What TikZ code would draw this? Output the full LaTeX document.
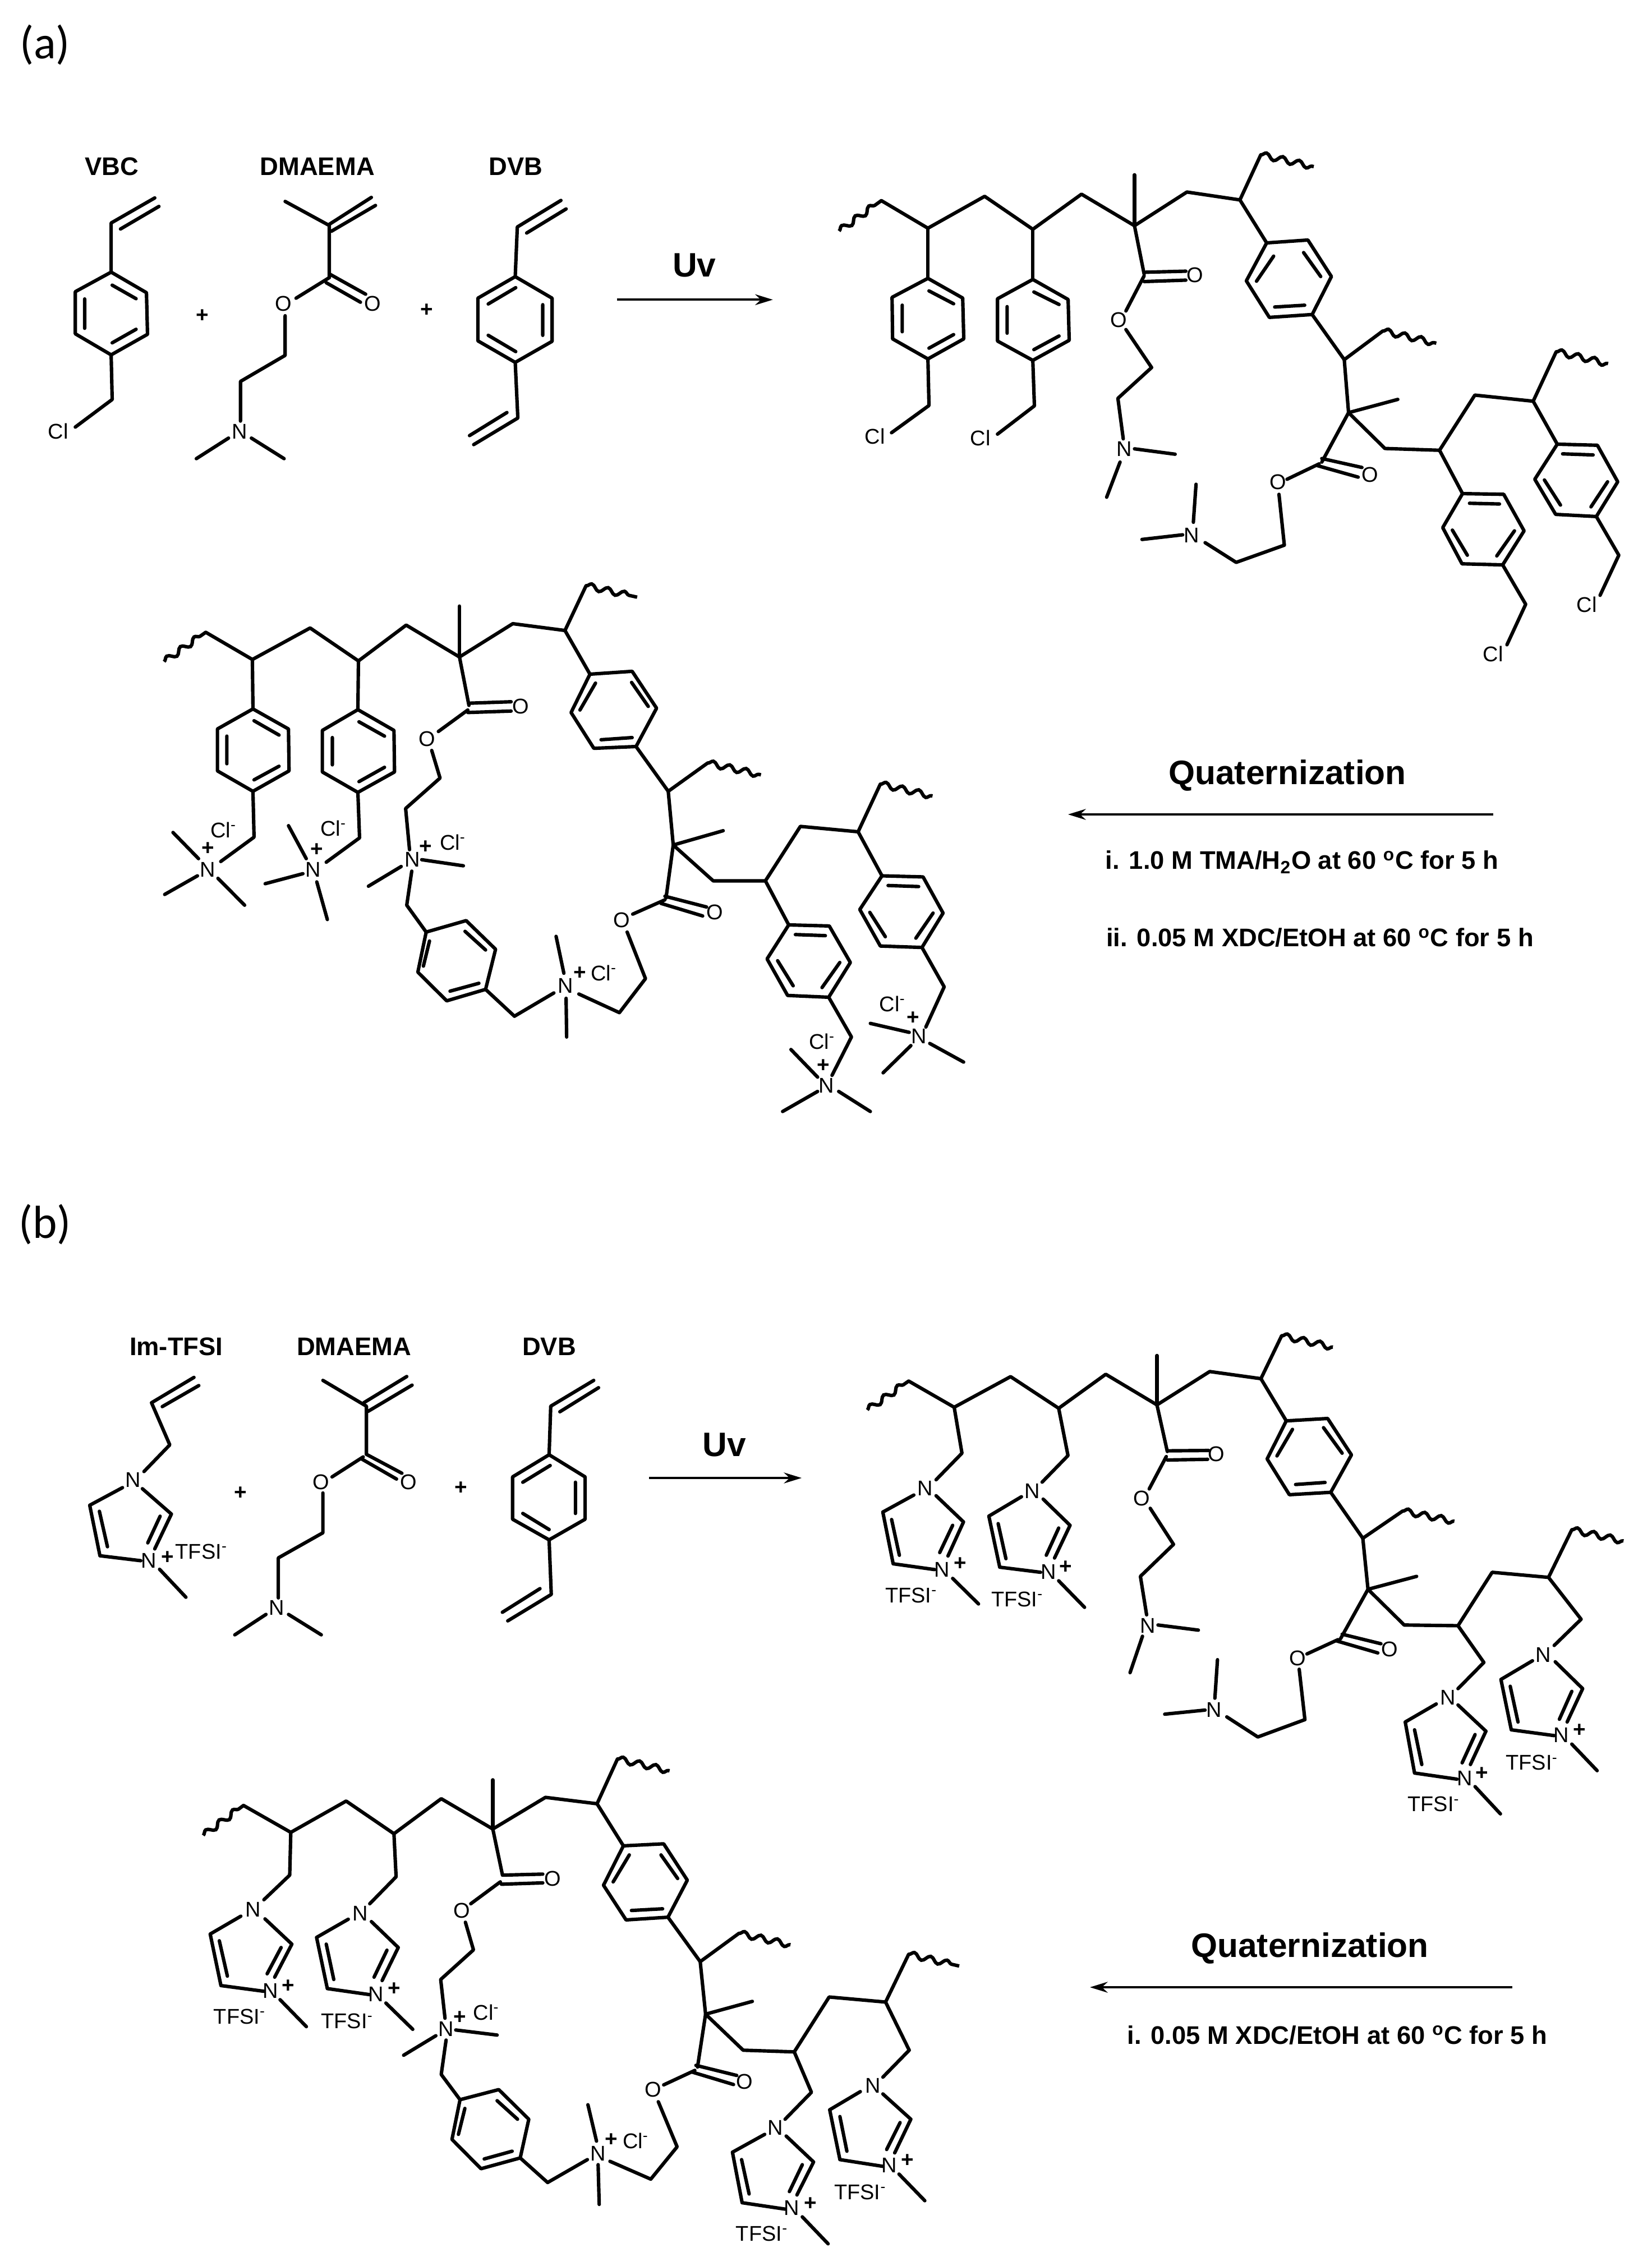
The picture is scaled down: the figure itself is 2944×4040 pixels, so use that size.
\documentclass[tikz,border=0pt]{standalone}
\usepackage{fontspec}
\setmainfont{Liberation Sans}
\newfontfamily\calib{Carlito}
\usetikzlibrary{arrows.meta,decorations.pathmorphing}
\newcount\nodectr
\newcommand\atm[2]{\global\advance\nodectr by 1 \node[atom] (a\the\nodectr) at (#1) {#2};}
\newcommand\pls[1]{\global\advance\nodectr by 1 \node[plussign] (a\the\nodectr) at (#1) {+};}
\newcommand\ttl[3]{\global\advance\nodectr by 1 \node[#1] (a\the\nodectr) at (#2) {#3};}
\newcommand\clm{Cl\textsuperscript{-}}
\newcommand\tfs{TFSI\textsuperscript{-}}
\newcommand\dgC{\textsuperscript{o}C}
\tikzset{
  bond/.style={line width=1.75pt,line join=round,line cap=round,black},
  wavy/.style={line width=1.75pt,decorate,decoration={snake,amplitude=1.5pt,segment length=8.5pt}},
  atom/.style={inner sep=0pt,font=\fontsize{10.8}{12}\selectfont},
  plussign/.style={inner sep=0pt,font=\fontsize{11}{12}\selectfont\bfseries},
  molname/.style={inner sep=0pt,font=\fontsize{12.9}{15}\selectfont\bfseries},
  bigname/.style={inner sep=0pt,font=\fontsize{17.2}{20}\selectfont\bfseries},
  cond/.style={inner sep=0pt,font=\fontsize{12.9}{15}\selectfont\bfseries},
  panel/.style={inner sep=0pt,font=\fontsize{23.5}{26}\selectfont\calib},
  react/.style={line width=1.1pt,-{Stealth[length=9pt,width=5.5pt]}},
  zm/.style n args={4}{shift={(#1,#2)},x={0.01cm*#3/1566},y={-0.01cm*#4/1566}}
}
\begin{document}
\begin{tikzpicture}[x=0.01cm,y=-0.01cm]
\fill[white] (0,0) rectangle (2944,4040);
\useasboundingbox (0,0) rectangle (2944,4040);
\ttl{panel}{80,80}{(a)}
\ttl{panel}{80,2183}{(b)}
\ttl{bigname}{2295,1383}{Quaternization}
\draw[react] (2662,1452) -- (1904,1452);
\ttl{cond}{2321,1537}{i. 1.0 M TMA/H\textsubscript{2}O at 60 \dgC\ for 5 h}
\ttl{cond}{2353,1672}{ii. 0.05 M XDC/EtOH at 60 \dgC\ for 5 h}
\ttl{bigname}{2335,3473}{Quaternization}
\draw[react] (2696,3543) -- (1943,3543);
\ttl{cond}{2384,3628}{i. 0.05 M XDC/EtOH at 60 \dgC\ for 5 h}

% ---------- monomers (a)
\begin{scope}[zm={0}{200}{1450}{700}]
\ttl{molname}{215,217}{VBC}\ttl{molname}{611,217}{DMAEMA}\ttl{molname}{993,217}{DVB}
\draw[bond] (298,342)--(214,442)--(214,638) (306,376)--(232,466);
\draw[bond] (214,638)--(282,720)--(284,886)--(214,968)--(145,884)--(145,716)--cycle;
\draw[bond] (216,690)--(262,744) (262,866)--(216,920) (163,745)--(163,862);
\draw[bond] (214,968)--(216,1146)--(145,1256);
\atm{112,1272}{Cl}
\pls{390,812}
\draw[bond] (549,356)--(634,452)--(634,660) (715,340)--(632,450) (723,372)--(638,475);
\draw[bond] (634,645)--(704,726) (628,680)--(694,758) (634,660)--(570,742);
\atm{717,763}{O}\atm{546,763}{O}
\draw[bond] (549,812)--(549,970)--(463,1074)--(463,1232);
\atm{461,1274}{N}
\draw[bond] (440,1300)--(378,1382) (484,1300)--(547,1382);
\pls{822,790}
\draw[bond] (1080,352)--(996,458)--(992,656) (1090,386)--(1014,482);
\draw[bond] (992,656)--(1063,742)--(1063,914)--(992,998)--(920,912)--(920,742)--cycle;
\draw[bond] (993,700)--(940,765) (1045,768)--(1045,890) (940,890)--(993,955);
\draw[bond] (992,998)--(997,1220)--(912,1326) (976,1198)--(904,1290);
\ttl{bigname}{1337,610}{Uv}
\draw[react] (1188,748)--(1488,748);
\end{scope}

% ---------- polymer (a) top
\begin{scope}[zm={1450}{230}{1494}{1000}]
\draw[wavy] (48,285)--(127,200);
\draw[bond] (127,200)--(214,277)--(320,188)--(410,280)--(501,182)--(600,270)--(698,176)--(797,198)--(836,72);
\draw[wavy] (836,72)--(935,105);
\draw[bond] (600,270)--(600,128);
\draw[bond] (214,277)--(214,417);
\draw[bond] (214,417)--(279,472)--(281,586)--(214,642)--(148,586)--(147,470)--cycle;
\draw[bond] (216,452)--(262,488) (262,574)--(216,612) (166,492)--(166,566);
\draw[bond] (214,642)--(216,772)--(146,848);
\atm{115,858}{Cl}
\draw[bond] (410,280)--(410,420);
\draw[bond] (410,420)--(476,476)--(478,590)--(410,646)--(344,592)--(344,474)--cycle;
\draw[bond] (412,455)--(459,490) (459,578)--(412,616) (362,496)--(362,570);
\draw[bond] (410,646)--(413,773)--(344,852);
\atm{312,862}{Cl}
\draw[bond] (600,270)--(618,405) (618,400)--(696,397) (618,426)--(696,422);
\atm{713,408}{O}
\draw[bond] (618,410)--(584,508);
\atm{570,533}{O}
\draw[bond] (584,560)--(632,666)--(569,752)--(579,865);
\atm{581,893}{N}
\draw[bond] (600,893)--(676,908) (573,930)--(548,1028);
\draw[bond] (797,198)--(847,318);
\draw[bond] (847,318)--(924,310)--(968,412)--(932,518)--(852,526)--(809,424)--cycle;
\draw[bond] (860,355)--(828,425) (916,345)--(948,412) (862,497)--(918,492);
\draw[bond] (932,518)--(992,644)--(1064,564);
\draw[wavy] (1064,564)--(1164,598);
\draw[bond] (992,644)--(1000,792) (1000,792)--(1092,755);
\draw[bond] (1000,792)--(1068,892)--(1170,897)--(1236,743)--(1345,760)--(1388,622);
\draw[wavy] (1388,622)--(1485,655);
\draw[bond] (1000,792)--(950,930) (950,920)--(1025,945) (942,940)--(1018,972);
\atm{1040,965}{O}
\draw[bond] (945,935)--(885,978);
\atm{868,985}{O}
\draw[bond] (870,1020)--(880,1162)--(790,1210)--(732,1155);
\atm{707,1135}{N}
\draw[bond] (710,1098)--(715,992) (690,1133)--(614,1146);
\draw[bond] (1170,897)--(1213,1018);
\draw[bond] (1213,1018)--(1290,1020)--(1328,1122)--(1288,1217)--(1212,1214)--(1176,1113)--cycle;
\draw[bond] (1226,1045)--(1282,1047) (1310,1122)--(1277,1192) (1222,1190)--(1194,1120);
\draw[bond] (1288,1217)--(1331,1327)--(1296,1440);
\atm{1270,1465}{Cl}
\draw[bond] (1345,760)--(1390,880);
\draw[bond] (1390,880)--(1465,883)--(1503,985)--(1463,1082)--(1387,1076)--(1348,978)--cycle;
\draw[bond] (1400,907)--(1457,910) (1484,985)--(1453,1055) (1396,1050)--(1366,980);
\draw[bond] (1463,1082)--(1505,1190)--(1470,1302);
\atm{1445,1328}{Cl}
\end{scope}

% ---------- polymer (a) bottom
\begin{scope}[zm={250}{1020}{1550}{1000}]
\draw[wavy] (43,250)--(118,168);
\draw[bond] (118,168)--(202,244)--(306,156)--(393,248)--(479,148)--(575,237)--(671,144)--(765,163)--(803,38);
\draw[wavy] (803,38)--(895,70);
\draw[bond] (575,237)--(575,95);
\draw[bond] (202,244)--(203,382);
\draw[bond] (203,382)--(267,438)--(268,555)--(203,612)--(139,555)--(139,438)--cycle;
\draw[bond] (205,415)--(250,455) (250,542)--(205,580) (156,458)--(156,535);
\draw[bond] (203,612)--(205,740)--(145,808);
\atm{121,830}{N}\pls{122,772}\atm{150,720}{\clm}
\draw[bond] (105,800)--(59,727) (103,848)--(44,900) (140,855)--(188,930);
\draw[bond] (393,248)--(392,384);
\draw[bond] (392,384)--(457,442)--(458,558)--(392,615)--(328,558)--(328,442)--cycle;
\draw[bond] (394,418)--(440,458) (440,545)--(394,585) (346,462)--(346,538);
\draw[bond] (392,615)--(395,742)--(335,810);
\atm{311,830}{N}\pls{318,775}\atm{348,715}{\clm}
\draw[bond] (299,800)--(267,708) (293,842)--(225,870) (318,865)--(337,970);
\draw[bond] (575,237)--(592,372) (592,366)--(668,362) (590,392)--(668,388);
\atm{685,375}{O}
\draw[bond] (590,385)--(537,445);
\atm{517,465}{O}
\draw[bond] (525,498)--(540,575)--(478,660)--(485,775);
\atm{490,803}{N}\pls{514,768}\atm{563,755}{\clm}
\draw[bond] (507,803)--(582,820) (470,822)--(411,877) (489,835)--(480,930)--(515,1005);
\draw[bond] (515,1005)--(587,973)--(640,1053)--(622,1165)--(552,1197)--(500,1117)--cycle;
\draw[bond] (585,1003)--(622,1055) (521,1030)--(510,1100) (558,1170)--(610,1148);
\draw[bond] (622,1165)--(674,1240)--(745,1175);
\atm{766,1155}{N}\pls{792,1120}\atm{835,1120}{\clm}
\draw[bond] (763,1120)--(749,1017) (767,1190)--(768,1298);
\draw[bond] (790,1178)--(863,1230)--(910,1135)--(877,1005);
\atm{867,972}{O}
\draw[bond] (887,955)--(945,915) (945,905)--(1020,935) (938,925)--(1013,960);
\atm{1035,950}{O}
\draw[bond] (765,163)--(810,285);
\draw[bond] (810,285)--(886,277)--(930,380)--(893,487)--(817,492)--(776,392)--cycle;
\draw[bond] (820,310)--(792,385) (885,308)--(915,375) (830,468)--(886,462);
\draw[bond] (893,487)--(951,612)--(1022,533);
\draw[wavy] (1022,533)--(1118,566);
\draw[bond] (951,612)--(960,762) (960,762)--(1050,722);
\draw[bond] (960,762)--(1032,862)--(1126,862)--(1189,710)--(1293,725)--(1333,592);
\draw[wavy] (1333,592)--(1427,625);
\draw[bond] (960,762)--(947,910);
\draw[bond] (1126,862)--(1168,985);
\draw[bond] (1168,985)--(1241,988)--(1279,1090)--(1240,1187)--(1166,1182)--(1129,1080)--cycle;
\draw[bond] (1180,1012)--(1234,1015) (1260,1090)--(1228,1160) (1176,1155)--(1148,1085);
\draw[bond] (1240,1187)--(1281,1298)--(1246,1405);
\atm{1236,1433}{N}\pls{1230,1378}\atm{1228,1310}{\clm}
\draw[bond] (1220,1410)--(1172,1333) (1220,1450)--(1157,1506) (1258,1450)--(1315,1506);
\draw[bond] (1293,725)--(1336,848);
\draw[bond] (1336,848)--(1410,851)--(1446,952)--(1408,1048)--(1333,1044)--(1296,942)--cycle;
\draw[bond] (1347,875)--(1402,878) (1428,952)--(1397,1022) (1342,1018)--(1314,950);
\draw[bond] (1408,1048)--(1448,1158)--(1415,1270);
\atm{1403,1296}{N}\pls{1392,1245}\atm{1355,1205}{\clm}
\draw[bond] (1385,1285)--(1315,1260) (1388,1322)--(1338,1398) (1422,1316)--(1483,1368);
\end{scope}

% ---------- monomers (b)
\begin{scope}[zm={0}{2340}{1500}{600}]
\ttl{molname}{328,160}{Im-TFSI}\ttl{molname}{659,160}{DMAEMA}\ttl{molname}{1022,160}{DVB}
\draw[bond] (361,302)--(282,420)--(316,616)--(268,740) (370,340)--(302,438);
\atm{248,778}{N}
\draw[bond] (228,815)--(167,897)--(186,1132)--(262,1155) (185,925)--(200,1090);
\atm{277,1155}{N}\pls{312,1140}\atm{375,1112}{\tfs}
\draw[bond] (265,820)--(319,938)--(288,1100) (298,948)--(275,1072);
\draw[bond] (297,1195)--(346,1325);
\pls{448,842}
\draw[bond] (601,316)--(682,436)--(682,660) (757,298)--(677,420) (767,338)--(685,460);
\draw[bond] (682,660)--(748,748) (672,680)--(738,775) (676,672)--(618,765);
\atm{760,790}{O}\atm{597,790}{O}
\draw[bond] (601,840)--(601,1025)--(518,1142)--(518,1328);
\atm{515,1375}{N}
\draw[bond] (495,1405)--(437,1500) (537,1405)--(598,1500);
\pls{858,818}
\draw[bond] (1105,316)--(1025,436)--(1022,662) (1114,350)--(1042,462);
\draw[bond] (1022,662)--(1089,765)--(1089,962)--(1022,1058)--(954,962)--(954,765)--cycle;
\draw[bond] (1024,712)--(973,790) (1071,790)--(1071,935) (973,935)--(1022,1010);
\draw[bond] (1022,1058)--(1026,1312)--(945,1435) (1005,1285)--(935,1395);
\ttl{bigname}{1348,615}{Uv}
\draw[react] (1208,770)--(1492,770);
\end{scope}

% ---------- polymer (b) top
\begin{scope}[zm={1500}{2330}{1444}{950}]
\draw[wavy] (50,303)--(130,218);
\draw[bond] (130,218)--(218,295)--(327,205)--(420,298)--(511,198)--(610,288)--(712,190)--(811,211)--(851,85);
\draw[wavy] (851,85)--(950,118);
\draw[bond] (610,288)--(610,143);
\draw[bond] (218,295)--(233,430)--(183,508);
\atm{162,533}{N}
\draw[bond] (140,553)--(80,603)--(100,755)--(180,772) (97,625)--(112,730);
\atm{194,772}{N}\pls{230,755}\atm{135,848}{\tfs}
\draw[bond] (183,555)--(236,632)--(206,732) (215,642)--(190,722) (215,798)--(265,873);
\draw[bond] (420,298)--(438,437)--(388,515);
\atm{369,541}{N}
\draw[bond] (348,558)--(285,615)--(306,765)--(385,780) (303,637)--(318,740);
\atm{400,778}{N}\pls{434,765}\atm{340,860}{\tfs}
\draw[bond] (390,565)--(442,642)--(412,738) (420,650)--(396,730) (420,805)--(470,883);
\draw[bond] (610,288)--(630,425) (632,423)--(710,422) (630,450)--(708,448);
\atm{725,432}{O}
\draw[bond] (628,440)--(595,535);
\atm{581,562}{O}
\draw[bond] (597,592)--(642,698)--(578,792)--(590,905);
\atm{592,937}{N}
\draw[bond] (612,935)--(690,950) (582,968)--(558,1075);
\draw[bond] (811,211)--(860,335);
\draw[bond] (860,335)--(940,328)--(986,435)--(946,545)--(866,552)--(823,447)--cycle;
\draw[bond] (872,360)--(842,438) (932,355)--(968,430) (878,522)--(935,516);
\draw[bond] (946,545)--(1008,680)--(1085,600);
\draw[wavy] (1085,600)--(1185,630);
\draw[bond] (1008,680)--(1018,830) (1018,830)--(1112,792);
\draw[bond] (1018,830)--(1088,935)--(1192,937)--(1258,780)--(1367,795)--(1412,655);
\draw[wavy] (1412,655)--(1512,688);
\draw[bond] (1018,830)--(965,975) (968,962)--(1043,990) (958,982)--(1037,1017);
\atm{1060,1007}{O}
\draw[bond] (960,978)--(900,1020);
\atm{882,1033}{O}
\draw[bond] (885,1065)--(896,1213)--(805,1264)--(745,1205);
\atm{720,1185}{N}
\draw[bond] (722,1150)--(727,1037) (703,1185)--(625,1197);
\draw[bond] (1192,937)--(1242,1045)--(1192,1122);
\atm{1172,1148}{N}
\draw[bond] (1150,1167)--(1090,1220)--(1108,1370)--(1190,1388) (1108,1243)--(1122,1345);
\atm{1205,1385}{N}\pls{1238,1372}\atm{1145,1462}{\tfs}
\draw[bond] (1192,1170)--(1246,1247)--(1216,1345) (1225,1257)--(1200,1340) (1225,1410)--(1274,1490);
\draw[bond] (1367,795)--(1430,918)--(1378,995);
\atm{1357,1022}{N}
\draw[bond] (1336,1040)--(1275,1095)--(1295,1243)--(1378,1260) (1293,1115)--(1308,1220);
\atm{1392,1258}{N}\pls{1427,1245}\atm{1335,1340}{\tfs}
\draw[bond] (1380,1043)--(1433,1122)--(1403,1220) (1412,1130)--(1388,1212) (1412,1285)--(1461,1363);
\end{scope}

% ---------- polymer (b) bottom
\begin{scope}[zm={300}{3100}{1500}{940}]
\draw[wavy] (65,287)--(140,198);
\draw[bond] (140,198)--(228,278)--(331,185)--(420,282)--(508,178)--(604,268)--(702,174)--(798,193)--(836,60);
\draw[wavy] (836,60)--(933,95);
\draw[bond] (604,268)--(604,122);
\draw[bond] (228,278)--(226,405)--(178,478);
\atm{158,507}{N}
\draw[bond] (135,527)--(78,580)--(98,733)--(178,750) (95,600)--(110,705);
\atm{190,748}{N}\pls{223,735}\atm{133,825}{\tfs}
\draw[bond] (180,535)--(230,610)--(198,708) (210,620)--(184,698) (208,775)--(257,855);
\draw[bond] (420,282)--(424,410)--(375,490);
\atm{357,518}{N}
\draw[bond] (335,536)--(276,590)--(296,742)--(375,760) (294,610)--(308,715);
\atm{387,758}{N}\pls{421,743}\atm{333,838}{\tfs}
\draw[bond] (378,543)--(428,620)--(398,718) (407,628)--(383,708) (405,785)--(455,863);
\draw[bond] (604,268)--(622,405) (622,405)--(697,402) (620,432)--(697,428);
\atm{715,415}{O}
\draw[bond] (618,425)--(563,490);
\atm{546,510}{O}
\draw[bond] (553,545)--(568,627)--(507,715)--(515,830);
\atm{517,862}{N}\pls{543,828}\atm{592,812}{\clm}
\draw[bond] (535,865)--(612,880) (498,882)--(438,940) (517,895)--(508,997)--(543,1072);
\draw[bond] (543,1072)--(615,1042)--(671,1130)--(655,1245)--(582,1277)--(528,1190)--cycle;
\draw[bond] (612,1075)--(650,1130) (552,1098)--(540,1175) (588,1248)--(640,1225);
\draw[bond] (655,1245)--(706,1318)--(780,1250);
\atm{800,1232}{N}\pls{825,1192}\atm{870,1195}{\clm}
\draw[bond] (797,1195)--(781,1087) (800,1265)--(802,1383);
\draw[bond] (822,1255)--(898,1308)--(947,1212)--(912,1078);
\atm{902,1042}{O}
\draw[bond] (922,1028)--(980,985) (982,970)--(1058,1000) (975,990)--(1052,1027);
\atm{1073,1018}{O}
\draw[bond] (798,193)--(847,318);
\draw[bond] (847,318)--(922,312)--(966,420)--(930,530)--(852,538)--(810,435)--cycle;
\draw[bond] (858,345)--(828,425) (917,345)--(948,415) (862,510)--(920,505);
\draw[bond] (930,530)--(990,662)--(1062,578);
\draw[wavy] (1062,578)--(1158,612);
\draw[bond] (990,662)--(1000,818) (1000,818)--(1087,780);
\draw[bond] (1000,818)--(1070,925)--(1165,930)--(1230,767)--(1335,782)--(1378,640);
\draw[wavy] (1378,640)--(1472,675);
\draw[bond] (1000,818)--(985,975);
\draw[bond] (1165,930)--(1197,1050)--(1148,1130);
\atm{1130,1155}{N}
\draw[bond] (1110,1175)--(1050,1228)--(1068,1378)--(1148,1397) (1067,1250)--(1081,1352);
\atm{1160,1393}{N}\pls{1195,1382}\atm{1105,1470}{\tfs}
\draw[bond] (1150,1180)--(1201,1257)--(1170,1355) (1180,1265)--(1156,1345) (1180,1420)--(1228,1500);
\draw[bond] (1335,782)--(1379,925)--(1330,1005);
\atm{1311,1030}{N}
\draw[bond] (1288,1048)--(1231,1102)--(1250,1250)--(1330,1270) (1250,1122)--(1263,1225);
\atm{1342,1267}{N}\pls{1376,1253}\atm{1288,1347}{\tfs}
\draw[bond] (1330,1055)--(1382,1130)--(1352,1230) (1362,1140)--(1337,1220) (1360,1293)--(1408,1372);
\end{scope}
\end{tikzpicture}
\end{document}
